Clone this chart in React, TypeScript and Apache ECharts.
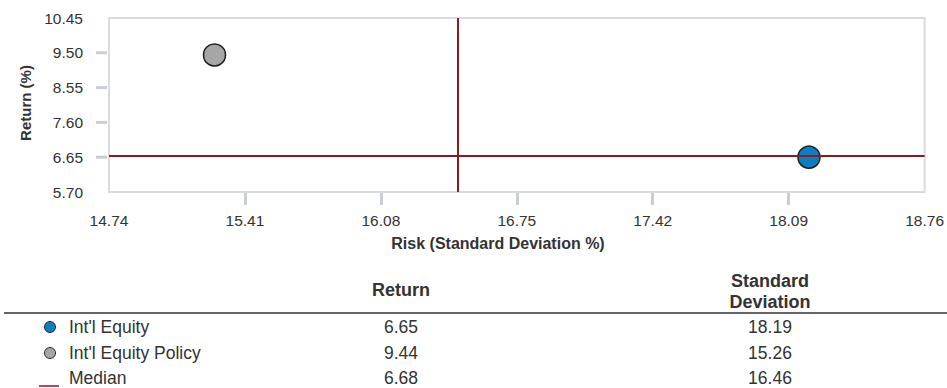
import React, { useEffect, useRef } from "react";
import * as echarts from "echarts";

const seriesNames = ["Int'l Equity", "Int'l Equity Policy", "Median"];
const returns = [6.65, 9.44, 6.68];
const stdDevs = [18.19, 15.26, 16.46];
const colors = ["#0b7fc2", "#a6a6a6", "#8b1a22"];
const xTicks = [14.74, 15.41, 16.08, 16.75, 17.42, 18.09, 18.76];
const yTicks = [5.7, 6.65, 7.6, 8.55, 9.5, 10.45];
const headers = ["Return", "Standard\nDeviation"];

const FONT = '"Liberation Sans", Arial, Helvetica, sans-serif';
const TICK_COLOR = "#cacdd2";

export default function App() {
  const ref = useRef<HTMLDivElement>(null);
  useEffect(() => {
    if (!ref.current) return;
    const chart = echarts.init(ref.current, undefined, { renderer: "svg" });
    const xInterval = +(xTicks[1] - xTicks[0]).toFixed(2);
    const yInterval = +(yTicks[1] - yTicks[0]).toFixed(2);

    const rowY = [327, 353, 378];
    const graphics: any[] = [];
    const txt = (x: number, y: number, text: string, font: string, align: string, extra: any = {}) => ({
      type: "text",
      x,
      y,
      ...extra,
      style: {
        text,
        font,
        fill: "#333",
        align,
        verticalAlign: "middle",
        textAlign: align,
        textVerticalAlign: "middle",
        ...(extra.style || {}),
      },
    });
    graphics.push(txt(25, 103, "Return (%)", `bold 15px ${FONT}`, "center", { rotation: Math.PI / 2 }));
    graphics.push(txt(498, 243, "Risk (Standard Deviation %)", `bold 16px ${FONT}`, "center"));
    graphics.push(txt(401, 290, headers[0], `bold 18px ${FONT}`, "center"));
    graphics.push(txt(770, 291, headers[1], `bold 18px ${FONT}`, "center", { style: { lineHeight: 21 } }));
    graphics.push({
      type: "line",
      shape: { x1: 4, y1: 313, x2: 947, y2: 313 },
      style: { stroke: "#666", lineWidth: 2 },
    });
    seriesNames.forEach((name, i) => {
      const y = rowY[i];
      if (i < 2) {
        graphics.push({
          type: "circle",
          shape: { cx: 50, cy: y, r: 5.5 },
          style: { fill: colors[i], stroke: "#222", lineWidth: 1 },
        });
      } else {
        graphics.push({
          type: "line",
          shape: { x1: 39, y1: y + 8, x2: 59, y2: y + 8 },
          style: { stroke: colors[i], lineWidth: 1.5 },
        });
      }
      graphics.push(txt(69, y, name, `17.5px ${FONT}`, "left"));
      graphics.push(txt(401, y, returns[i].toFixed(2), `17.5px ${FONT}`, "center"));
      graphics.push(txt(770, y, stdDevs[i].toFixed(2), `17.5px ${FONT}`, "center"));
    });

    const option: any = {
      animation: false,
      textStyle: { fontFamily: FONT },
      grid: {
        left: 109,
        right: 19,
        top: 18,
        bottom: 388 - 192,
        show: true,
        borderColor: "#d9dbde",
        borderWidth: 2,
        containLabel: false,
      },
      xAxis: {
        type: "value",
        min: xTicks[0],
        max: xTicks[xTicks.length - 1],
        interval: xInterval,
        offset: 1,
        axisLine: { show: false },
        splitLine: { show: false },
        axisTick: {
          show: true,
          length: 12,
          customValues: xTicks.slice(1, -1),
          lineStyle: { color: TICK_COLOR, width: 3 },
        },
        axisLabel: {
          margin: 19,
          fontSize: 15.5,
          color: "#333",
          fontFamily: FONT,
          formatter: (v: number) => v.toFixed(2),
        },
      },
      yAxis: {
        type: "value",
        min: yTicks[0],
        max: yTicks[yTicks.length - 1],
        interval: yInterval,
        axisLine: { show: false },
        splitLine: { show: false },
        axisTick: { show: false },
        axisLabel: {
          margin: 26,
          fontSize: 15.5,
          color: "#333",
          fontFamily: FONT,
          formatter: (v: number) => v.toFixed(2),
        },
      },
      series: [
        {
          type: "scatter",
          z: 2,
          symbolSize: 22,
          data: [0, 1].map((i) => ({
            value: [stdDevs[i], returns[i]],
            name: seriesNames[i],
            itemStyle: {
              color: colors[i],
              borderColor: "#1e1e1e",
              borderWidth: 1.5,
              opacity: 1,
            },
          })),
        },
        {
          type: "line",
          z: 5,
          data: [],
          markLine: {
            silent: true,
            symbol: "none",
            label: { show: false },
            lineStyle: { color: colors[2], width: 2, type: "solid" },
            data: [{ xAxis: stdDevs[2] }, { yAxis: returns[2] }],
          },
        },
      ],
      graphic: graphics,
    };
    chart.setOption(option);

    // y-axis tick marks, positioned through the chart's own y scale
    const tickEls = yTicks.slice(1, -1).map((v) => {
      const p = chart.convertToPixel({ gridIndex: 0 }, [xTicks[0], v]) as number[];
      return {
        type: "rect",
        silent: true,
        z: 10,
        shape: { x: p[0] - 13, y: p[1] - 1.5, width: 11, height: 3 },
        style: { fill: TICK_COLOR },
      };
    });
    chart.setOption({ graphic: [...graphics, ...tickEls] });
    return () => chart.dispose();
  }, []);
  return (
    <div
      ref={ref}
      style={{ position: "fixed", left: 0, top: 0, width: 947, height: 388, background: "#fff" }}
    />
  );
}
